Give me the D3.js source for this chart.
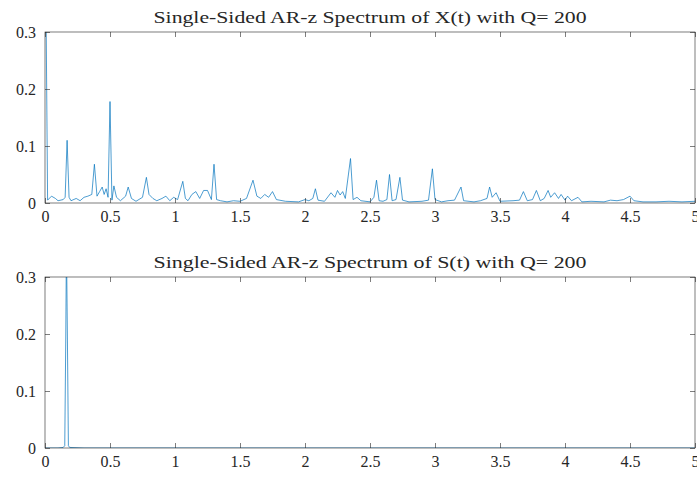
<!DOCTYPE html>
<html>
<head>
<meta charset="utf-8">
<script src="https://d3js.org/d3.v7.min.js"></script>
<style>
  body { margin: 0; background: #fff; }
  text { font-family: "Liberation Serif", "DejaVu Serif", serif; fill: #262626; }
</style>
</head>
<body>
<div id="chart"></div>
<script>
// X(t) spectrum (frequency, amplitude)
var xFreq = [0, 0.008, 0.02, 0.05, 0.08, 0.1, 0.14, 0.155, 0.17, 0.185, 0.2, 0.24, 0.27, 0.3, 0.33, 0.36, 0.38, 0.4, 0.42, 0.44,
  0.455, 0.47, 0.485, 0.5, 0.515, 0.53, 0.55, 0.58, 0.62, 0.64, 0.665, 0.7, 0.75, 0.78, 0.8, 0.83, 0.86, 0.9, 0.93, 0.96,
  0.99, 1.02, 1.06, 1.08, 1.1, 1.13, 1.16, 1.19, 1.22, 1.25, 1.28, 1.3, 1.32, 1.35, 1.4, 1.45, 1.5, 1.55, 1.6, 1.63,
  1.66, 1.69, 1.72, 1.75, 1.78, 1.85, 1.95, 2.0, 2.03, 2.06, 2.08, 2.1, 2.15, 2.2, 2.23, 2.25, 2.27, 2.29, 2.31, 2.35,
  2.37, 2.4, 2.43, 2.5, 2.53, 2.55, 2.57, 2.6, 2.63, 2.65, 2.67, 2.7, 2.73, 2.75, 2.8, 2.9, 2.95, 2.98, 3.0, 3.05,
  3.1, 3.15, 3.2, 3.22, 3.3, 3.35, 3.4, 3.42, 3.44, 3.47, 3.5, 3.6, 3.65, 3.68, 3.71, 3.75, 3.78, 3.81, 3.84, 3.87,
  3.89, 3.92, 3.95, 3.97, 4.0, 4.02, 4.05, 4.1, 4.13, 4.2, 4.3, 4.35, 4.4, 4.45, 4.5, 4.53, 4.6, 4.7, 4.8, 4.9, 5.0];
var xAmp = [0.30, 0.34, 0.005, 0.012, 0.008, 0.004, 0.006, 0.01, 0.11, 0.01, 0.004, 0.008, 0.004, 0.01, 0.012, 0.015, 0.068, 0.012, 0.02, 0.028,
  0.015, 0.025, 0.01, 0.178, 0.005, 0.03, 0.01, 0.004, 0.012, 0.028, 0.008, 0.003, 0.01, 0.045, 0.015, 0.008, 0.004, 0.008, 0.012, 0.004,
  0.01, 0.006, 0.038, 0.008, 0.004, 0.015, 0.02, 0.008, 0.022, 0.022, 0.006, 0.068, 0.006, 0.004, 0.002, 0.004, 0.003, 0.008, 0.04, 0.012,
  0.008, 0.015, 0.01, 0.02, 0.006, 0.003, 0.002, 0.006, 0.004, 0.008, 0.025, 0.005, 0.003, 0.018, 0.01, 0.022, 0.014, 0.02, 0.008, 0.078,
  0.006, 0.01, 0.004, 0.002, 0.01, 0.04, 0.004, 0.003, 0.006, 0.05, 0.004, 0.006, 0.045, 0.005, 0.002, 0.003, 0.005, 0.06, 0.006, 0.002,
  0.004, 0.005, 0.028, 0.004, 0.002, 0.004, 0.008, 0.028, 0.01, 0.018, 0.003, 0.004, 0.005, 0.02, 0.004, 0.006, 0.022, 0.004, 0.008, 0.022,
  0.01, 0.018, 0.008, 0.015, 0.005, 0.012, 0.004, 0.01, 0.002, 0.003, 0.002, 0.005, 0.004, 0.006, 0.012, 0.004, 0.002, 0.002, 0.003, 0.002, 0.003];

// S(t) spectrum: one narrow line near 0.165
var sFreq = [0, 0.1, 0.14, 0.152, 0.16, 0.165, 0.172, 0.18, 0.19, 0.3, 1, 2, 3, 4, 5];
var sAmp = [0, 0, 0.001, 0.004, 0.2, 0.36, 0.2, 0.004, 0.001, 0, 0, 0, 0, 0, 0];

var xTicks = [0, 0.5, 1, 1.5, 2, 2.5, 3, 3.5, 4, 4.5, 5];
var yTicks = [0, 0.1, 0.2, 0.3];
var titles = ["Single-Sided AR-z Spectrum of X(t) with Q= 200", "Single-Sided AR-z Spectrum of S(t) with Q= 200"];

var W = 697, H = 478;
var left = 45, right = 695;
var panels = [
  {top: 32, bottom: 203, f: xFreq, a: xAmp, title: titles[0]},
  {top: 277, bottom: 448, f: sFreq, a: sAmp, title: titles[1]}
];

var svg = d3.select("#chart").append("svg")
  .attr("width", W)
  .attr("height", H);

var x = d3.scaleLinear().domain([0, 5]).range([left, right]);

panels.forEach(function(p, i) {
  var y = d3.scaleLinear().domain([0, 0.3]).range([p.bottom, p.top]);
  var g = svg.append("g");

  svg.append("clipPath").attr("id", "clip" + i)
    .append("rect")
      .attr("x", left).attr("y", p.top)
      .attr("width", right - left).attr("height", p.bottom - p.top);

  var pts = p.f.map(function(f, k) { return [f, p.a[k]]; });
  g.append("path")
    .datum(pts)
    .attr("clip-path", "url(#clip" + i + ")")
    .attr("fill", "none")
    .attr("stroke", "#0072BD")
    .attr("stroke-width", 0.7)
    .attr("d", d3.line()
      .x(function(d) { return x(d[0]); })
      .y(function(d) { return y(d[1]); }));

  // box
  g.append("rect")
    .attr("x", left).attr("y", p.top)
    .attr("width", right - left).attr("height", p.bottom - p.top)
    .attr("fill", "none").attr("stroke", "#262626").attr("stroke-width", 0.6);

  var ax = [
    d3.axisBottom(x).tickValues(xTicks).tickFormat(d3.format("~g")).tickSizeInner(-5).tickSizeOuter(0).tickPadding(8),
    d3.axisTop(x).tickValues(xTicks).tickFormat("").tickSizeInner(-5).tickSizeOuter(0),
    d3.axisLeft(y).tickValues(yTicks).tickFormat(d3.format("~g")).tickSizeInner(-5).tickSizeOuter(0).tickPadding(9),
    d3.axisRight(y).tickValues(yTicks).tickFormat("").tickSizeInner(-5).tickSizeOuter(0)
  ];
  var pos = [
    "translate(0," + p.bottom + ")",
    "translate(0," + p.top + ")",
    "translate(" + left + ",0)",
    "translate(" + right + ",0)"
  ];
  ax.forEach(function(a, k) {
    var ag = g.append("g").attr("transform", pos[k]).call(a);
    ag.select(".domain").remove();
    ag.selectAll("line").attr("stroke", "#262626").attr("stroke-width", 0.6);
    ag.selectAll("text")
      .style("font-family", "'Liberation Serif', serif")
      .style("font-size", "16px")
      .attr("fill", "#262626");
  });

  g.append("text")
    .attr("x", (left + right) / 2)
    .attr("y", p.top - 9)
    .attr("text-anchor", "middle")
    .attr("textLength", 433)
    .attr("lengthAdjust", "spacingAndGlyphs")
    .style("font-size", "16px")
    .text(p.title);
});
</script>
</body>
</html>
